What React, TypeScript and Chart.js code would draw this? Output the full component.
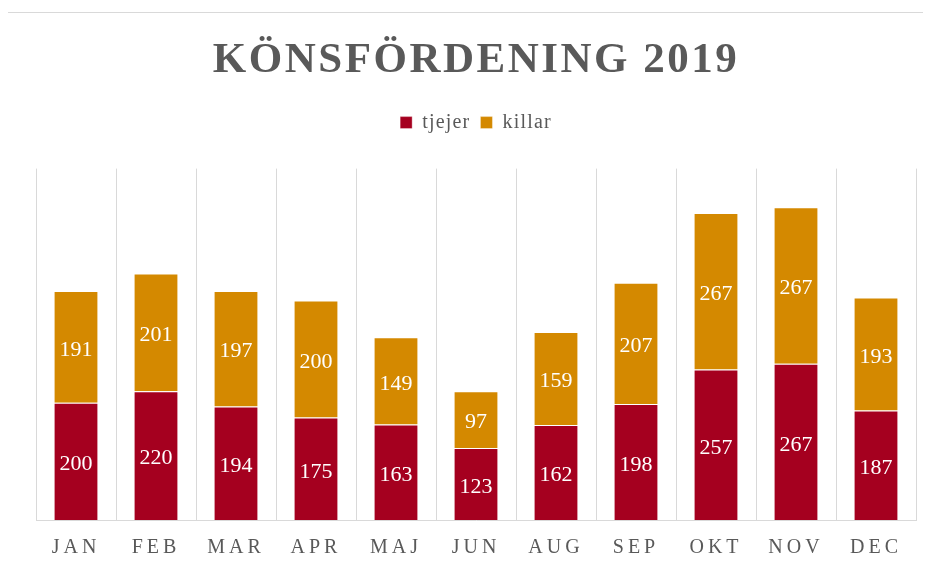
import React, { useEffect, useRef } from "react";
import { Chart, registerables, layouts } from "chart.js";

Chart.register(...registerables);

const months = ["JAN", "FEB", "MAR", "APR", "MAJ", "JUN", "AUG", "SEP", "OKT", "NOV", "DEC"];
const tjejer = [200, 220, 194, 175, 163, 123, 162, 198, 257, 267, 187];
const killar = [191, 201, 197, 200, 149, 97, 159, 207, 267, 267, 193];

const SERIF = '"Liberation Serif", "Times New Roman", serif';
const GREY = "#595959";

function wrap(obj: any, key: string, sp: string) {
  if (!obj || obj["__w_" + key]) return;
  const orig = obj[key];
  obj[key] = function (...args: any[]) {
    const ctx = this.ctx;
    const prev = ctx.letterSpacing;
    ctx.letterSpacing = sp;
    try {
      return orig.apply(this, args);
    } finally {
      ctx.letterSpacing = prev;
    }
  };
  obj["__w_" + key] = true;
}

const spacingPlugin = {
  id: "spacing",
  beforeLayout(chart: any) {
    wrap(chart.titleBlock, "draw", "2.5px");
    wrap(chart.legend, "fit", "1.2px");
    wrap(chart.legend, "draw", "1.2px");
  },
  beforeDraw(chart: any) {
    wrap(chart.scales.x, "drawLabels", "4px");
  },
};

const spacerPlugin = {
  id: "spacer",
  beforeInit(chart: any) {
    const box: any = {
      position: "top",
      weight: -100,
      fullSize: true,
      options: { stackWeight: 1 },
      left: 0,
      top: 0,
      right: 0,
      bottom: 0,
      width: 0,
      height: 0,
      isHorizontal() {
        return true;
      },
      update(maxWidth: number) {
        this.width = maxWidth;
        this.height = 26;
      },
      draw() {},
    };
    layouts.addBox(chart, box);
  },
};

const valueLabels = {
  id: "valueLabels",
  afterDatasetsDraw(chart: any) {
    const ctx = chart.ctx;
    ctx.save();
    ctx.letterSpacing = "0px";
    ctx.font = `22px ${SERIF}`;
    ctx.fillStyle = "#ffffff";
    ctx.textAlign = "center";
    ctx.textBaseline = "middle";
    chart.data.datasets.forEach((ds: any, i: number) => {
      const meta = chart.getDatasetMeta(i);
      meta.data.forEach((bar: any, j: number) => {
        const { x, y, base } = bar.getProps(["x", "y", "base"], true);
        ctx.fillText(String(ds.data[j]), x, (y + base) / 2 + 3);
      });
    });
    ctx.restore();
  },
};

export default function App() {
  const ref = useRef<HTMLCanvasElement>(null);
  useEffect(() => {
    document.documentElement.style.overflow = "hidden";
    const chart = new Chart(ref.current as HTMLCanvasElement, {
      type: "bar",
      data: {
        labels: months,
        datasets: [
          {
            label: "tjejer",
            data: tjejer,
            backgroundColor: "#A5001F",
            borderColor: "rgba(255,255,255,0.35)",
            borderWidth: 1,
            barPercentage: 0.56,
            categoryPercentage: 1,
          },
          {
            label: "killar",
            data: killar,
            backgroundColor: "#D48900",
            borderColor: "rgba(255,255,255,0.35)",
            borderWidth: 1,
            barPercentage: 0.56,
            categoryPercentage: 1,
          },
        ],
      },
      options: {
        responsive: false,
        animation: false,
        devicePixelRatio: 1,
        layout: { padding: { left: 28, right: 15, top: 0, bottom: 0 } },
        plugins: {
          title: {
            display: true,
            text: "KÖNSFÖRDENING 2019",
            color: GREY,
            font: { family: SERIF, size: 43, weight: "bold" },
            padding: { top: 27, bottom: 16 },
          },
          legend: {
            display: true,
            position: "top",
            labels: {
              color: GREY,
              font: { family: SERIF, size: 20 },
              boxWidth: 12,
              boxHeight: 12,
              padding: 10,
            },
          },
          tooltip: { enabled: false },
        },
        scales: {
          x: {
            stacked: true,
            grid: { color: "#D9D9D9", lineWidth: 1, drawTicks: false, offset: true },
            border: { color: "#D9D9D9", width: 1 },
            ticks: {
              color: GREY,
              font: { family: SERIF, size: 20 },
              padding: 16,
              maxRotation: 0,
            },
            afterFit(scale: any) {
              scale.height = 46;
            },
          },
          y: {
            stacked: true,
            display: false,
            min: 0,
            max: 600,
          },
        },
      },
      plugins: [spacerPlugin, spacingPlugin, valueLabels],
    } as any);
    return () => chart.destroy();
  }, []);

  return (
    <div
      style={{
        position: "relative",
        marginLeft: -1,
        width: 924,
        height: 558,
        overflow: "hidden",
        background: "#fff",
      }}
    >
      <div
        style={{
          position: "absolute",
          left: 0,
          top: 4,
          width: 1000,
          height: 1000,
          border: "1px solid #D9D9D9",
        }}
      />
      <canvas
        ref={ref}
        width={923}
        height={558}
        style={{ position: "absolute", left: 1, top: 0, width: 923, height: 558 }}
      />
    </div>
  );
}
